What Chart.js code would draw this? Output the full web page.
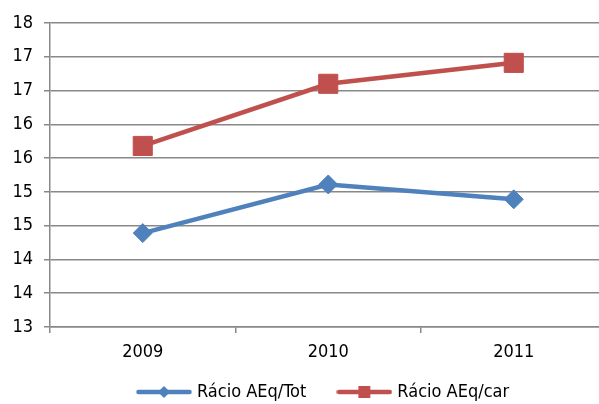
<!DOCTYPE html>
<html>
<head>
<meta charset="utf-8">
<script src="https://cdn.jsdelivr.net/npm/chart.js@4"></script>
<style>
  html, body { margin: 0; padding: 0; background: #fff; overflow: hidden; }
  canvas { display: block; }
</style>
</head>
<body>
<canvas id="myChart" width="621" height="404"></canvas>
<script>
  const years = ['2009', '2010', '2011'];
  const racioTot = [14.39, 15.11, 14.89];
  const racioCar = [15.68, 16.60, 16.91];
  const yTickLabels = ['13', '14', '14', '15', '15', '16', '16', '17', '17', '18'];

  const BLUE = '#4F81BD';
  const RED = '#C0504D';
  const GRID = '#888888';
  const FONT = "'DejaVu Sans Condensed', 'DejaVu Sans', sans-serif";
  const FONT_SIZE = 18;

  // legend symbol: a short line with the marker in the middle
  function legendIcon(color, shape) {
    const c = document.createElement('canvas');
    c.width = 56; c.height = 14;
    const g = c.getContext('2d');
    g.strokeStyle = color;
    g.lineWidth = 4.5;
    g.lineCap = 'round';
    g.beginPath(); g.moveTo(2.5, 7); g.lineTo(53.5, 7); g.stroke();
    g.fillStyle = color;
    if (shape === 'diamond') {
      g.beginPath(); g.moveTo(28, 1); g.lineTo(34, 7); g.lineTo(28, 13); g.lineTo(22, 7); g.closePath(); g.fill();
    } else {
      g.fillRect(22, 1, 12, 12);
    }
    return c;
  }
  const icons = [legendIcon(BLUE, 'diamond'), legendIcon(RED, 'square')];

  // move the legend row to where it sits in the original
  const shiftLegend = {
    id: 'shiftLegend',
    afterLayout(chart) {
      const lg = chart.legend;
      const pad = lg.options.labels.padding;
      const x0 = (lg.left + pad + lg.right - lg.lineWidths[0]) / 2;
      const dx = 140 - x0;
      const dy = 392 - (lg.top + pad + FONT_SIZE / 2);
      lg.left += dx; lg.right += dx;
      lg.top += dy;
      lg.bottom = chart.height;
    }
  };

  const ctx = document.getElementById('myChart').getContext('2d');
  new Chart(ctx, {
    type: 'line',
    data: {
      labels: years,
      datasets: [{
        label: 'Rácio AEq/Tot',
        data: racioTot,
        borderColor: BLUE,
        backgroundColor: BLUE,
        borderWidth: 4.5,
        pointStyle: 'rectRot',
        pointRadius: 9.5,
        pointBorderWidth: 1,
        tension: 0,
        fill: false
      }, {
        label: 'Rácio AEq/car',
        data: racioCar,
        borderColor: RED,
        backgroundColor: RED,
        borderWidth: 4.5,
        pointStyle: 'rect',
        pointRadius: 13.5,
        pointBorderWidth: 1,
        tension: 0,
        fill: false
      }]
    },
    options: {
      responsive: false,
      animation: false,
      layout: { padding: { top: 23, left: 0, right: 0, bottom: 0 } },
      plugins: {
        tooltip: { enabled: false },
        legend: {
          position: 'bottom',
          maxHeight: 38,
          labels: {
            usePointStyle: true,
            pointStyleWidth: 48,
            padding: 34,
            color: '#000',
            font: { family: FONT, size: FONT_SIZE },
            generateLabels(chart) {
              return chart.data.datasets.map((ds, i) => ({
                text: ds.label,
                pointStyle: icons[i],
                fillStyle: ds.borderColor,
                strokeStyle: ds.borderColor,
                lineWidth: 0,
                datasetIndex: i
              }));
            }
          }
        }
      },
      scales: {
        x: {
          offset: true,
          afterFit(scale) { scale.height = 39; },
          grid: { offset: true, drawOnChartArea: false, color: GRID, lineWidth: 1.5, tickLength: 6 },
          border: { color: GRID, width: 1.5 },
          ticks: { color: '#000', padding: 9, font: { family: FONT, size: FONT_SIZE } }
        },
        y: {
          min: 13,
          max: 17.5,
          afterFit(scale) { scale.width = 50; },
          grid: { color: GRID, lineWidth: 1.5, tickLength: 6 },
          border: { color: GRID, width: 1.5 },
          ticks: {
            stepSize: 0.5,
            color: '#000',
            padding: 11,
            font: { family: FONT, size: FONT_SIZE },
            callback: (v, i) => yTickLabels[i]
          }
        }
      }
    },
    plugins: [shiftLegend]
  });
</script>
</body>
</html>
